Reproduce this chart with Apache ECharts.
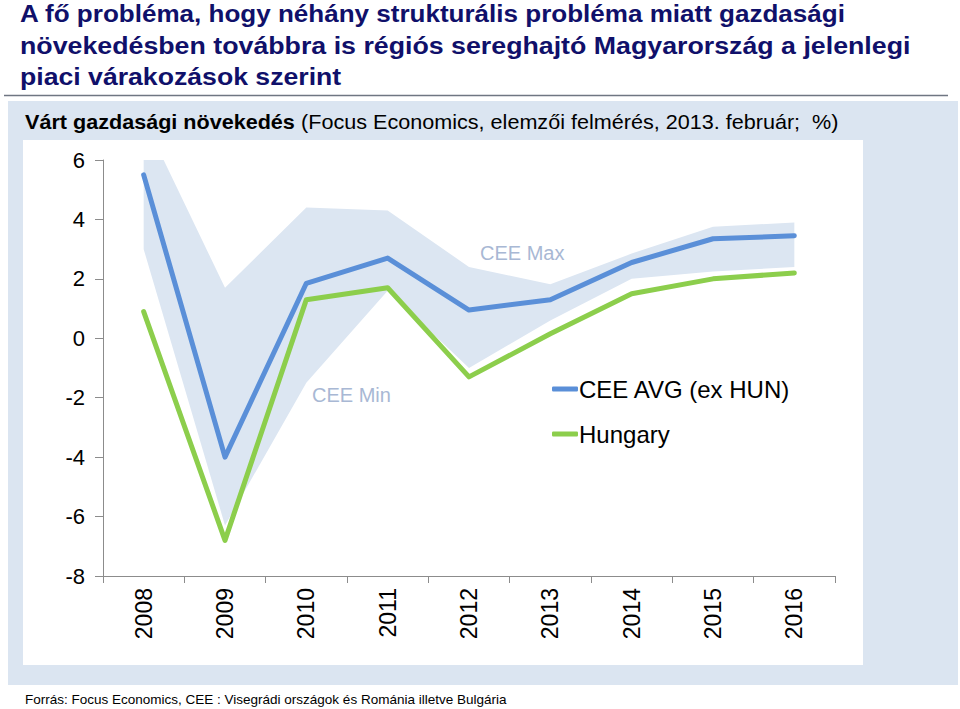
<!DOCTYPE html>
<html>
<head>
<meta charset="utf-8">
<script src="https://cdn.jsdelivr.net/npm/echarts@6/dist/echarts.min.js"></script>
<style>
html,body{margin:0;padding:0;background:#fff;}
#chart{width:960px;height:709px;}
</style>
</head>
<body>
<div id="chart"></div>
<script>
var categories = ['2008','2009','2010','2011','2012','2013','2014','2015','2016'];
var ceeAvg  = [5.5, -4.0, 1.85, 2.7, 0.95, 1.3, 2.55, 3.35, 3.45];
var hungary = [0.9, -6.8, 1.3, 1.7, -1.3, 0.15, 1.5, 2.0, 2.2];
var ceeMin  = [3.0, -6.3, -1.5, 1.6, -1.0, 0.6, 2.0, 2.25, 2.4];
var ceeMax  = [7.4, 1.7, 4.4, 4.3, 2.4, 1.82, 2.85, 3.75, 3.9];
var yTicks  = [-8, -6, -4, -2, 0, 2, 4, 6];

var bandDiff = ceeMax.map(function(v, i){ return +(v - ceeMin[i]).toFixed(3); });

var chart = echarts.init(document.getElementById('chart'), null, {renderer: 'svg'});
var FONT = '"Liberation Sans", Arial, sans-serif';
var TITLE_FONT = 'bold 24px ' + FONT;
var TITLE_COLOR = '#10106a';

var option = {
  backgroundColor: '#ffffff',
  animation: false,
  graphic: [
    {type: 'rect', z: -10, shape: {x: 8, y: 101, width: 950, height: 584}, style: {fill: '#dbe5f1'}, silent: true},
    {type: 'rect', z: -9, shape: {x: 23, y: 140, width: 840, height: 525}, style: {fill: '#ffffff'}, silent: true},
    {type: 'line', z: -8, shape: {x1: 4, y1: 95.5, x2: 948, y2: 95.5}, style: {stroke: '#6f7682', lineWidth: 1.5}, silent: true},
    {type: 'text', x: 20, y: -2, scaleX: 1.085, style: {text: 'A fő probléma, hogy néhány strukturális probléma miatt gazdasági', fill: TITLE_COLOR, font: TITLE_FONT, lineHeight: 31.5}},
    {type: 'text', x: 20, y: 29.5, scaleX: 1.115, style: {text: 'növekedésben továbbra is régiós sereghajtó Magyarország a jelenlegi', fill: TITLE_COLOR, font: TITLE_FONT, lineHeight: 31.5}},
    {type: 'text', x: 20, y: 61, scaleX: 1.11, style: {text: 'piaci várakozások szerint', fill: TITLE_COLOR, font: TITLE_FONT, lineHeight: 31.5}},
    {type: 'text', x: 25, y: 112, scaleX: 1.08, style: {text: '{b|Várt gazdasági növekedés} (Focus Economics, elemzői felmérés, 2013. február;  %)', fill: '#000000', font: '20px ' + FONT, rich: {b: {font: 'bold 20px ' + FONT, fill: '#000000'}}}},
    {type: 'text', left: 480, top: 243, style: {text: 'CEE Max', fill: '#a8b8d4', font: '20px ' + FONT}},
    {type: 'text', left: 312, top: 385, style: {text: 'CEE Min', fill: '#a8b8d4', font: '20px ' + FONT}},
    {type: 'text', x: 25, y: 692, style: {text: 'Forrás: Focus Economics, CEE : Visegrádi országok és Románia illetve Bulgária', fill: '#000000', font: '13.5px ' + FONT}}
  ],
  legend: {
    orient: 'vertical',
    left: 547,
    top: 372,
    itemWidth: 26,
    itemHeight: 5,
    itemGap: 21,
    icon: 'roundRect',
    data: ['CEE AVG (ex HUN)', 'Hungary'],
    textStyle: {fontSize: 24, color: '#000', fontFamily: FONT, padding: [0,0,0,-4]}
  },
  grid: {left: 103, top: 160, width: 732, height: 416, containLabel: false},
  xAxis: {
    type: 'category',
    data: categories,
    boundaryGap: true,
    axisLine: {onZero: false, lineStyle: {color: '#8c8c8c', width: 1}},
    axisTick: {show: true, length: 7, alignWithLabel: false, lineStyle: {color: '#8c8c8c'}},
    axisLabel: {rotate: 90, fontSize: 23, color: '#000', fontFamily: FONT, margin: 12},
    splitLine: {show: false}
  },
  yAxis: {
    type: 'value',
    min: -8, max: 6, interval: 2,
    axisLine: {show: true, lineStyle: {color: '#8c8c8c', width: 1}},
    axisTick: {show: true, length: 8, lineStyle: {color: '#8c8c8c'}},
    axisLabel: {fontSize: 22, color: '#000', fontFamily: FONT, margin: 18,
      formatter: function(v){ return yTicks.indexOf(v) >= 0 ? String(v) : ''; }},
    splitLine: {show: false}
  },
  series: [
    {name: 'bandBase', type: 'line', stack: 'band', stackStrategy: 'all', data: ceeMin,
     symbol: 'none', lineStyle: {opacity: 0, width: 0}, silent: true, z: 1, clip: true},
    {name: 'band', type: 'line', stack: 'band', stackStrategy: 'all', data: bandDiff,
     symbol: 'none', lineStyle: {opacity: 0, width: 0}, areaStyle: {color: '#dce6f2', opacity: 1}, silent: true, z: 1, clip: true},
    {name: 'Hungary', type: 'line', data: hungary, symbol: 'none', z: 3,
     itemStyle: {color: '#8cce4c'},
     lineStyle: {color: '#8cce4c', width: 5, cap: 'round', join: 'round'}},
    {name: 'CEE AVG (ex HUN)', type: 'line', data: ceeAvg, symbol: 'none', z: 4,
     itemStyle: {color: '#5a8fd8'},
     lineStyle: {color: '#5a8fd8', width: 5, cap: 'round', join: 'round'}}
  ]
};
chart.setOption(option);
</script>
</body>
</html>
